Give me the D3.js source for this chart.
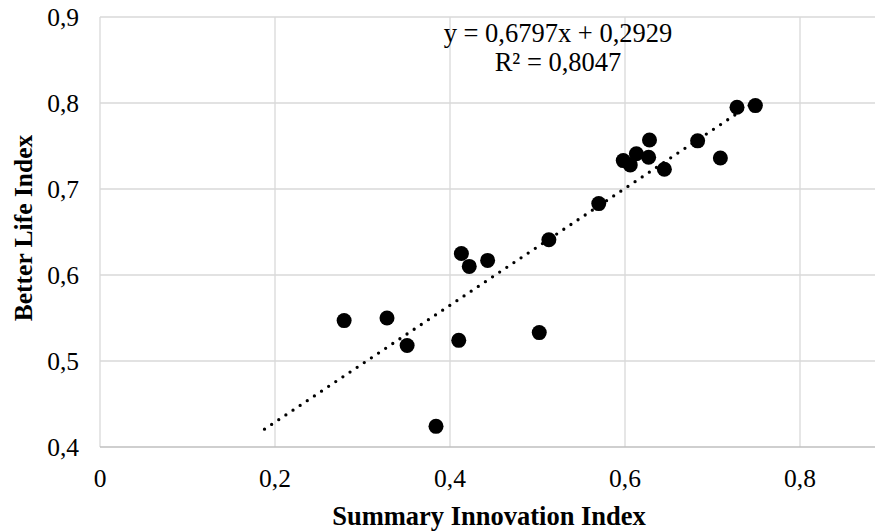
<!DOCTYPE html>
<html>
<head>
<meta charset="utf-8">
<script src="https://cdn.jsdelivr.net/npm/d3@7"></script>
<style>
  html, body { margin: 0; padding: 0; background: #fff; }
  svg { display: block; }
  text { font-family: "Liberation Serif", "Times New Roman", serif; fill: #000; }
</style>
</head>
<body>
<svg id="chart" width="875" height="531"></svg>
<script>
// Data
const sii = [0.728, 0.749, 0.628, 0.683, 0.613, 0.627, 0.598, 0.606, 0.709, 0.645, 0.570,
             0.513, 0.413, 0.443, 0.422, 0.279, 0.328, 0.351, 0.410, 0.502, 0.384];
const bli = [0.795, 0.797, 0.757, 0.756, 0.741, 0.737, 0.733, 0.728, 0.736, 0.723, 0.683,
             0.641, 0.625, 0.617, 0.610, 0.547, 0.550, 0.518, 0.524, 0.533, 0.424];
const xTicks = [0, 0.2, 0.4, 0.6, 0.8];
const yTicks = [0.4, 0.5, 0.6, 0.7, 0.8, 0.9];
const slope = 0.6797, intercept = 0.2929;
const trendRange = [0.188, 0.749];
const eqLabel = "y = 0,6797x + 0,2929";
const r2Label = "R² = 0,8047";
const xTitle = "Summary Innovation Index";
const yTitle = "Better Life Index";

const fmt = v => String(+v.toFixed(1)).replace(".", ",");

const svg = d3.select("#chart");
const x = d3.scaleLinear().domain([0, 0.9]).range([100, 887.5]);
const y = d3.scaleLinear().domain([0.4, 0.9]).range([447, 17]);

// Grid
const grid = svg.append("g");
grid.selectAll("line.v").data(xTicks).join("line")
  .attr("x1", d => x(d)).attr("x2", d => x(d))
  .attr("y1", y(0.4)).attr("y2", y(0.9))
  .attr("stroke", "#d9d9d9").attr("stroke-width", 1.3);
grid.selectAll("line.h").data(yTicks.filter(d => d > 0.4)).join("line")
  .attr("x1", x(0)).attr("x2", x(0.9))
  .attr("y1", d => y(d)).attr("y2", d => y(d))
  .attr("stroke", "#d9d9d9").attr("stroke-width", 1.3);
// bottom axis line
svg.append("line")
  .attr("x1", x(0)).attr("x2", x(0.9))
  .attr("y1", y(0.4)).attr("y2", y(0.4))
  .attr("stroke", "#bfbfbf").attr("stroke-width", 1.3);

// Tick labels
svg.append("g").selectAll("text").data(xTicks).join("text")
  .attr("x", d => x(d)).attr("y", 487)
  .attr("text-anchor", "middle").attr("font-size", 25.5)
  .text(d => fmt(d));
svg.append("g").selectAll("text").data(yTicks).join("text")
  .attr("x", 79).attr("y", d => y(d) + 8.5)
  .attr("text-anchor", "end").attr("font-size", 25.5)
  .text(d => fmt(d));

// Trendline
const line = d3.line().x(d => x(d)).y(d => y(slope * d + intercept));
svg.append("path")
  .attr("d", line(trendRange))
  .attr("fill", "none").attr("stroke", "#000")
  .attr("stroke-width", 3.3).attr("stroke-linecap", "round")
  .attr("stroke-dasharray", "0,8.57");

// Points
svg.append("g").selectAll("circle").data(sii.map((v, i) => [v, bli[i]])).join("circle")
  .attr("cx", d => x(d[0])).attr("cy", d => y(d[1]))
  .attr("r", 7.5).attr("fill", "#000");

// Equation labels
svg.append("text").attr("x", 558).attr("y", 42)
  .attr("text-anchor", "middle").attr("font-size", 26.5).text(eqLabel);
svg.append("text").attr("x", 558).attr("y", 70.5)
  .attr("text-anchor", "middle").attr("font-size", 26.5).text(r2Label);

// Axis titles
svg.append("text").attr("x", 489).attr("y", 525)
  .attr("text-anchor", "middle").attr("font-size", 26.5).attr("font-weight", "bold")
  .text(xTitle);
svg.append("text")
  .attr("transform", "translate(32,228) rotate(-90)")
  .attr("text-anchor", "middle").attr("font-size", 25.5).attr("font-weight", "bold")
  .text(yTitle);
</script>
</body>
</html>
